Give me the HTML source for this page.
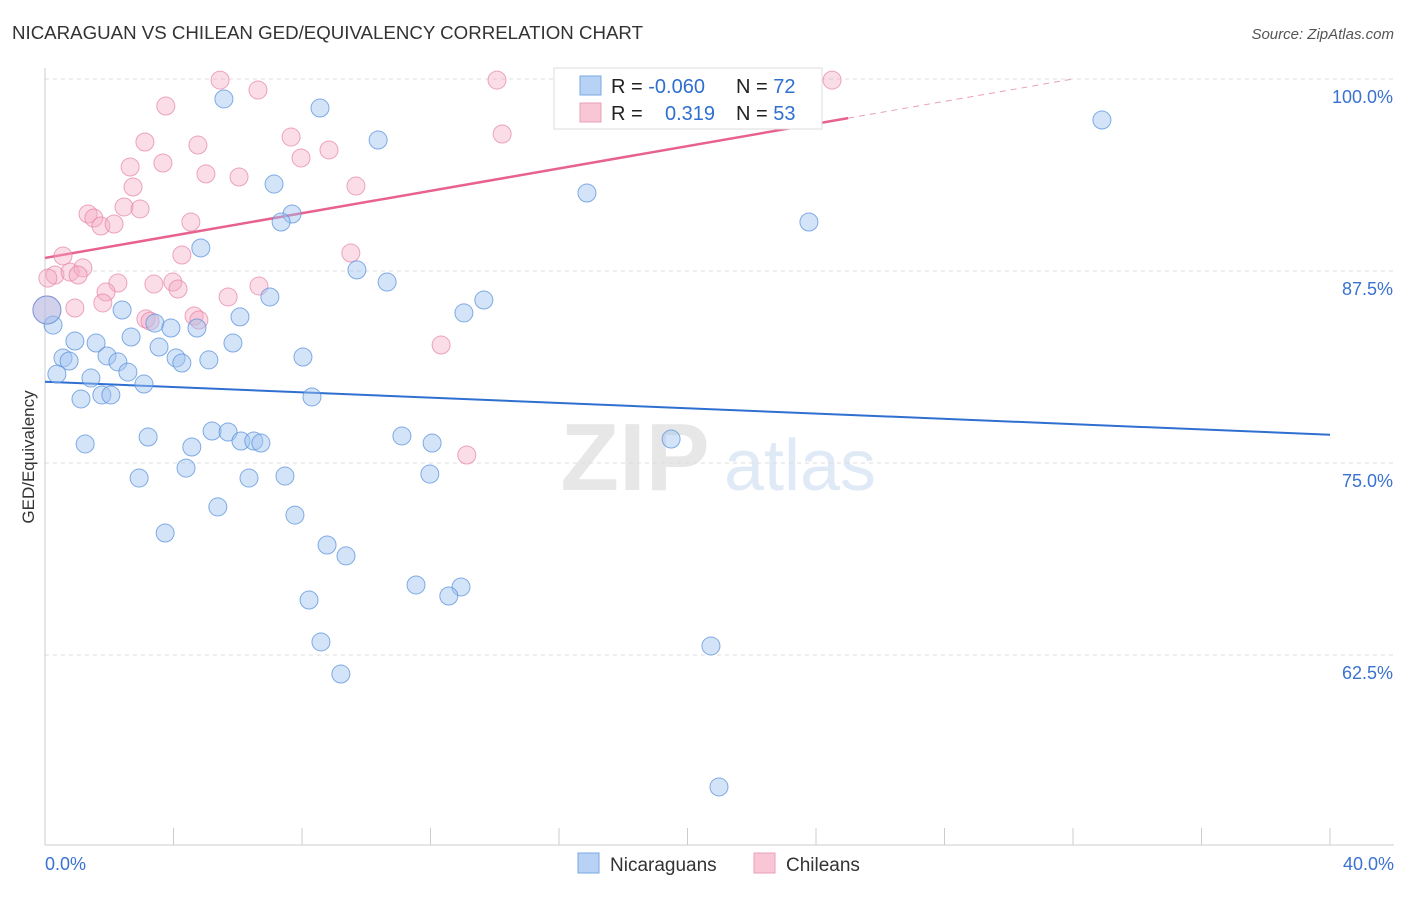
<!DOCTYPE html>
<html><head><meta charset="utf-8"><style>
body{margin:0;background:#fff;font-family:"Liberation Sans",sans-serif;}
svg text{font-family:"Liberation Sans",sans-serif;}
</style></head><body>
<svg id="chart" width="1406" height="892" xmlns="http://www.w3.org/2000/svg">
<text x="12" y="39" font-size="18.7" fill="#333">NICARAGUAN VS CHILEAN GED/EQUIVALENCY CORRELATION CHART</text>
<text x="1394" y="39" font-size="15" fill="#555" text-anchor="end" font-style="italic">Source: ZipAtlas.com</text>
<text x="34" y="457" font-size="17" fill="#333" text-anchor="middle" transform="rotate(-90 34 457)">GED/Equivalency</text>
<g opacity="0.35">
<text x="635" y="490" font-size="96" fill="#bbb" text-anchor="middle" font-family="Liberation Serif" font-weight="bold">ZIP</text>
<text x="800" y="490" font-size="72" fill="#a8c4e8" text-anchor="middle">atlas</text>
</g>
<g id="grid"></g><g id="axes"></g><g id="lines"></g><g id="pts"></g>
<g>
<rect x="554" y="68" width="268" height="61" fill="#fff" stroke="#ddd"/>
<rect x="580" y="76" width="21" height="19" fill="#b7d2f5" stroke="#7aaae6"/>
<rect x="580" y="103" width="21" height="19" fill="#f8c6d5" stroke="#eaa0b8"/>
<text x="611" y="93" font-size="20" fill="#222">R = <tspan fill="#2f6fd0">-0.060</tspan></text>
<text x="736" y="93" font-size="20" fill="#222">N = <tspan fill="#2f6fd0">72</tspan></text>
<text x="611" y="120" font-size="20" fill="#222">R = <tspan fill="#2f6fd0" x="665">0.319</tspan></text>
<text x="736" y="120" font-size="20" fill="#222">N = <tspan fill="#2f6fd0">53</tspan></text>
</g>
<g>
<rect x="578" y="853" width="21" height="20" fill="#b7d2f5" stroke="#7aaae6"/>
<text x="610" y="871" font-size="19" fill="#333">Nicaraguans</text>
<rect x="754" y="853" width="21" height="20" fill="#f8c6d5" stroke="#eaa0b8"/>
<text x="786" y="871" font-size="19" fill="#333">Chileans</text>
</g>
</svg>
<script>
const yTicks=[100,87.5,75,62.5];
const yTickLabels=["100.0%","87.5%","75.0%","62.5%"];
const xTickLabels=["0.0%","40.0%"];
const blueX=[5.57,8.56,10.37,32.9,16.87,7.13,7.69,7.35,23.78,4.85,9.71,10.65,7.0,13.66,13.04,2.4,6.07,3.42,3.92,4.73,0.25,0.93,1.59,5.85,3.55,2.68,0.56,0.75,1.93,2.27,4.08,4.26,5.1,8.03,0.37,1.43,2.58,3.08,1.12,1.77,2.05,8.31,1.25,3.21,4.57,5.2,5.7,6.1,6.5,6.72,11.11,12.05,19.49,2.93,4.39,6.35,7.47,11.98,5.38,7.78,3.74,8.78,9.37,11.55,12.95,12.57,8.22,8.59,20.73,9.21,20.98,0.06];
const blueY=[98.70,98.11,96.03,97.33,92.58,93.16,91.21,90.69,90.69,89.00,87.57,86.78,85.81,85.61,84.77,84.96,84.51,84.11,83.79,83.79,83.98,82.94,82.81,82.81,82.55,83.20,81.84,81.64,81.97,81.58,81.84,81.51,81.71,81.90,80.79,80.53,80.92,80.14,79.17,79.43,79.43,79.30,76.24,76.69,76.04,77.08,77.02,76.43,76.43,76.30,76.76,76.30,76.56,74.02,74.67,74.02,74.15,74.28,72.14,71.61,70.44,69.66,68.95,67.06,66.93,66.34,66.08,63.35,63.09,61.26,53.91,84.96];
const pinkX=[5.45,6.63,14.07,24.5,3.76,14.23,3.11,4.76,7.66,8.84,3.67,2.65,7.97,5.01,6.04,9.68,2.74,2.46,2.96,1.34,1.52,1.74,2.15,4.54,0.56,4.26,9.52,0.31,0.09,0.78,1.18,1.03,2.27,3.39,3.98,4.14,6.66,1.9,1.8,0.93,5.7,3.14,3.27,4.64,4.79,12.33,13.13,0.06];
const pinkY=[99.93,99.28,99.93,99.93,98.24,96.42,95.90,95.70,96.22,95.38,94.53,94.27,94.86,93.82,93.62,93.03,92.97,91.67,91.54,91.21,90.95,90.43,90.56,90.69,88.48,88.54,88.67,87.24,87.04,87.43,87.70,87.24,86.72,86.65,86.78,86.33,86.52,86.13,85.42,85.09,85.81,84.38,84.24,84.57,84.31,82.68,75.52,84.96];
const blueTrend=[80.29,76.84];
const pinkTrend=[88.35,100];
const NS="http://www.w3.org/2000/svg";
const X=v=>45+v/40*1285, Y=v=>79+(100-v)/12.5*192;
function mk(tag,attrs,parent){const e=document.createElementNS(NS,tag);for(const k in attrs)e.setAttribute(k,attrs[k]);document.getElementById(parent).appendChild(e);return e;}
yTicks.forEach((t,i)=>{
 const g=mk('line',{x1:45,x2:1394,y1:Y(t),y2:Y(t),stroke:'#ddd','stroke-dasharray':'4,4'},'grid');
 
 
 const tx=mk('text',{x:1393,y:Y(t)+24,'font-size':18,fill:'#3a72d0','text-anchor':'end'},'axes');
 tx.textContent=yTickLabels[i];
 
 
});
const xa=mk('line',{x1:45,x2:1394,y1:845,y2:845,stroke:'#ccc'},'axes');


const ya=mk('line',{x1:45,x2:45,y1:68,y2:845,stroke:'#ccc'},'axes');


for(let i=0;i<=10;i++){const t=mk('line',{x1:X(i*4),x2:X(i*4),y1:828,y2:845,stroke:'#ccc'},'axes');
 
 }
[[0,'start',45],[40,'end',1394]].forEach((d,i)=>{const t=mk('text',{x:d[2],y:870,'font-size':18,fill:'#3a72d0','text-anchor':d[1]},'axes');t.textContent=xTickLabels[i];
 
 });
const bl=mk('line',{x1:X(0),y1:Y(blueTrend[0]),x2:X(40),y2:Y(blueTrend[1]),stroke:'#2f6fd0','stroke-width':2},'lines');


const slope=(pinkTrend[1]-pinkTrend[0])/32.0;
const pl=mk('line',{x1:X(0),y1:Y(pinkTrend[0]),x2:X(25),y2:Y(pinkTrend[0]+slope*25),stroke:'#e8628e','stroke-width':2.5},'lines');


const pd=mk('line',{x1:X(25),y1:Y(pinkTrend[0]+slope*25),x2:X(32),y2:Y(pinkTrend[1]),stroke:'#e8a0b8','stroke-width':1,'stroke-dasharray':'6,5'},'lines');


pinkX.forEach((x,i)=>{const c=mk('circle',{cx:X(x),cy:Y(pinkY[i]),r:i==pinkX.length-1?14:9,fill:'rgba(245,170,195,0.4)',stroke:'rgba(230,130,165,0.7)'},'pts');
 
 });
blueX.forEach((x,i)=>{const c=mk('circle',{cx:X(x),cy:Y(blueY[i]),r:i==blueX.length-1?14:9,fill:'rgba(160,195,240,0.45)',stroke:'rgba(90,145,220,0.75)'},'pts');
 
 });
</script>
</body></html>
